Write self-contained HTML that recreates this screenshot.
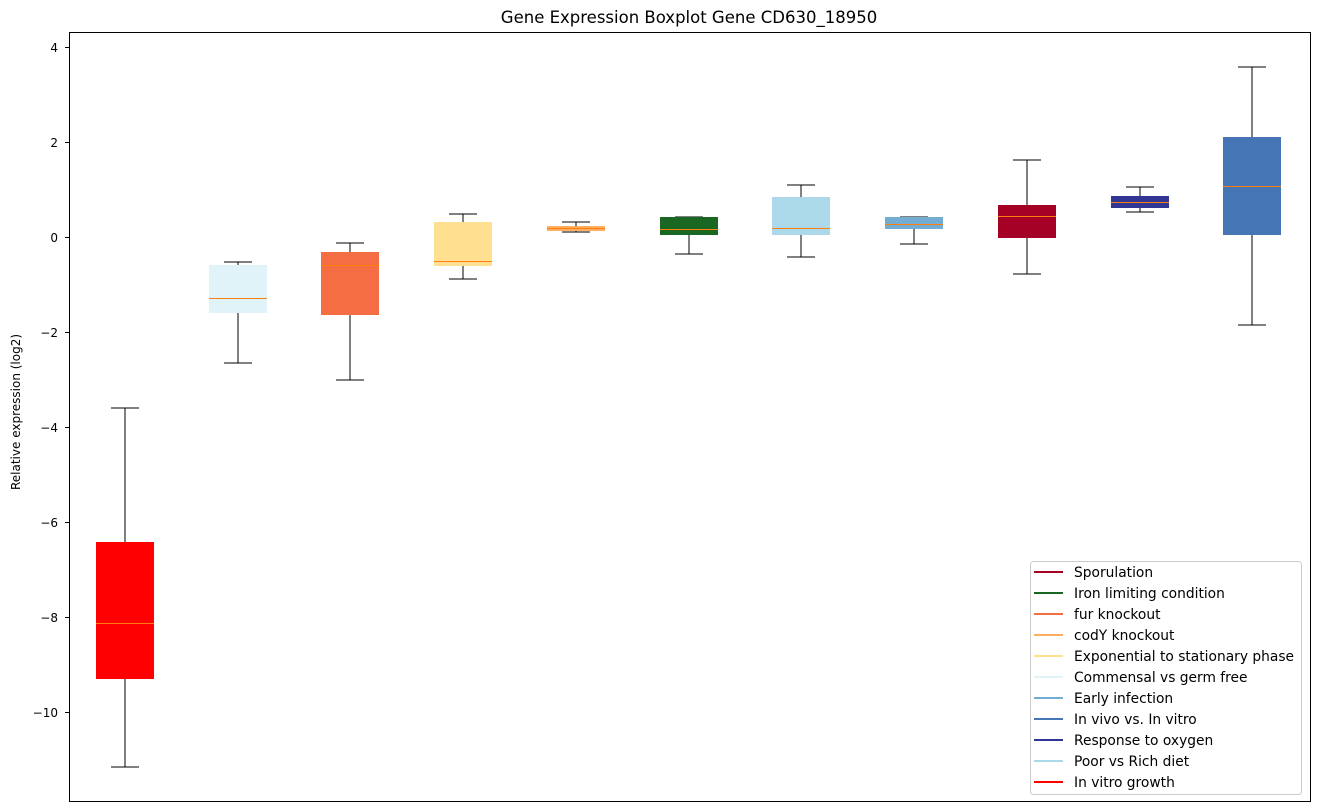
<!DOCTYPE html><html><head><style>body{margin:0;background:#fff}svg{display:block;font-family:"DejaVu Sans","Liberation Sans",sans-serif}</style></head><body>
<svg width="1318" height="812" xmlns="http://www.w3.org/2000/svg">
<text x="689" y="23" font-size="16.5" text-anchor="middle" fill="#000">Gene Expression Boxplot Gene CD630_18950</text>
<text transform="translate(20,412) rotate(-90)" font-size="12" text-anchor="middle">Relative expression (log2)</text>
<g font-size="12" text-anchor="end" fill="#000">
<text x="58" y="52">4</text><text x="58" y="147">2</text><text x="58" y="242">0</text><text x="58" y="337">−2</text><text x="58" y="432">−4</text><text x="58" y="527">−6</text><text x="58" y="622">−8</text><text x="58" y="717">−10</text>
</g>
<g stroke="#000" stroke-width="1"><line x1="65" x2="69" y1="47.5" y2="47.5"/><line x1="65" x2="69" y1="142.5" y2="142.5"/><line x1="65" x2="69" y1="237.5" y2="237.5"/><line x1="65" x2="69" y1="332.5" y2="332.5"/><line x1="65" x2="69" y1="427.5" y2="427.5"/><line x1="65" x2="69" y1="522.5" y2="522.5"/><line x1="65" x2="69" y1="617.5" y2="617.5"/><line x1="65" x2="69" y1="712.5" y2="712.5"/></g>

<g stroke="#000" stroke-width="1" fill="none" shape-rendering="crispEdges">
<path d="M125 408V542M125 679V767M111 408H139M111 767H139"/>
<path d="M238 262V265M238 313V363M224 262H252M224 363H252"/>
<path d="M350 243V252M350 315V380M336 243H364M336 380H364"/>
<path d="M463 214V222M463 266V279M449 214H477M449 279H477"/>
<path d="M576 222V226M576 231V232M562 222H590M562 232H590"/>
<path d="M689 217V217M689 235V254M675 217H703M675 254H703"/>
<path d="M801 185V197M801 235V257M787 185H815M787 257H815"/>
<path d="M914 217V217M914 229V244M900 217H928M900 244H928"/>
<path d="M1027 160V205M1027 238V274M1013 160H1041M1013 274H1041"/>
<path d="M1140 187V196M1140 208V212M1126 187H1154M1126 212H1154"/>
<path d="M1252 67V137M1252 235V325M1238 67H1266M1238 325H1266"/>
</g>
<rect x="96" y="542" width="58" height="137" fill="#ff0000"/>
<rect x="209" y="265" width="58" height="48" fill="#e0f3f8"/>
<rect x="321" y="252" width="58" height="63" fill="#f46d43"/>
<rect x="434" y="222" width="58" height="44" fill="#fee090"/>
<rect x="547" y="226" width="58" height="5" fill="#fdae61"/>
<rect x="660" y="217" width="58" height="18" fill="#1a6623"/>
<rect x="772" y="197" width="58" height="38" fill="#abd9e9"/>
<rect x="885" y="217" width="58" height="12" fill="#74add1"/>
<rect x="998" y="205" width="58" height="33" fill="#a50026"/>
<rect x="1111" y="196" width="58" height="12" fill="#313695"/>
<rect x="1223" y="137" width="58" height="98" fill="#4575b4"/>
<g stroke="#ff7f0e" stroke-width="1">
<path d="M96 623.5H154M209 298.5H267M321 265.5H379M434 261.5H492M547 228.5H605M660 229.5H718M772 228.5H830M885 224.5H943M998 216.5H1056M1111 202.5H1169M1223 186.5H1281"/>
</g>
<rect x="69.5" y="32.5" width="1241" height="769" fill="none" stroke="#000"/>
<rect x="1030.5" y="561.5" width="271" height="233" rx="3" fill="#fff" fill-opacity="0.8" stroke="#ccc"/>
<g font-size="13.8" fill="#000">
<g stroke-width="2">
<line x1="1034" x2="1063" y1="572" y2="572" stroke="#a50026"/><line x1="1034" x2="1063" y1="593" y2="593" stroke="#1a6623"/><line x1="1034" x2="1063" y1="614" y2="614" stroke="#f46d43"/><line x1="1034" x2="1063" y1="635" y2="635" stroke="#fdae61"/><line x1="1034" x2="1063" y1="656" y2="656" stroke="#fee090"/><line x1="1034" x2="1063" y1="677" y2="677" stroke="#e0f3f8"/><line x1="1034" x2="1063" y1="698" y2="698" stroke="#74add1"/><line x1="1034" x2="1063" y1="719" y2="719" stroke="#4575b4"/><line x1="1034" x2="1063" y1="740" y2="740" stroke="#313695"/><line x1="1034" x2="1063" y1="761" y2="761" stroke="#abd9e9"/><line x1="1034" x2="1063" y1="782" y2="782" stroke="#ff0000"/>
</g>
<text x="1074" y="577">Sporulation</text><text x="1074" y="598">Iron limiting condition</text><text x="1074" y="619">fur knockout</text><text x="1074" y="640">codY knockout</text><text x="1074" y="661">Exponential to stationary phase</text><text x="1074" y="682">Commensal vs germ free</text><text x="1074" y="703">Early infection</text><text x="1074" y="724">In vivo vs. In vitro</text><text x="1074" y="745">Response to oxygen</text><text x="1074" y="766">Poor vs Rich diet</text><text x="1074" y="787">In vitro growth</text>
</g>
</svg></body></html>
